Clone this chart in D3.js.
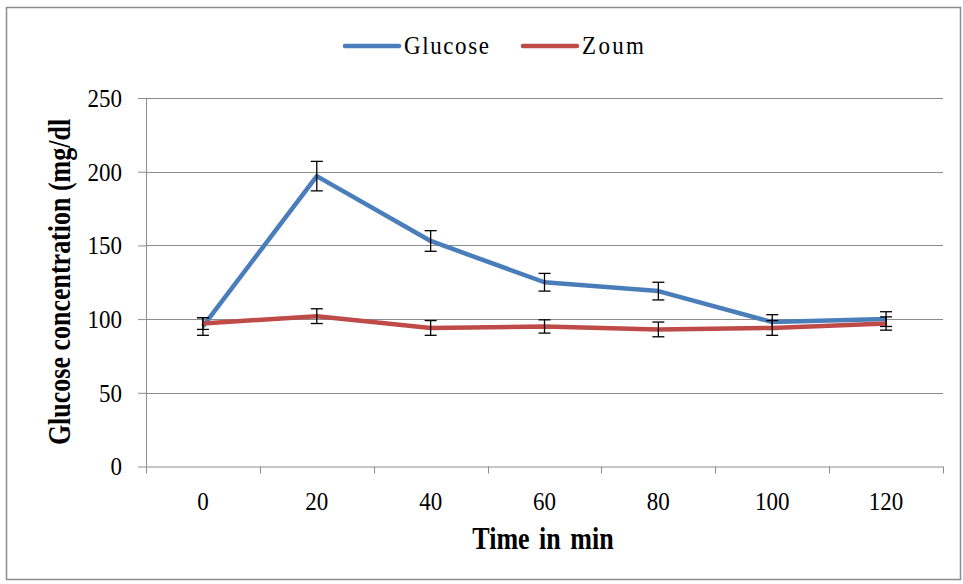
<!DOCTYPE html>
<html>
<head>
<meta charset="utf-8">
<script src="https://cdn.jsdelivr.net/npm/d3@7"></script>
<style>
  body { margin: 0; background: #fff; }
  svg { display: block; font-family: "Liberation Serif", "Times New Roman", serif; }
  text { transform-box: fill-box; transform-origin: center; }
  .grid line { stroke: #8c8c8c; stroke-width: 1; }
  .axis path, .axis line { stroke: #8c8c8c; stroke-width: 1; }
  .axis text { font-size: 23px; fill: #000; transform: scaleY(1.13); }
  .Title { transform: scaleY(1.18); }
</style>
</head>
<body>
<div id="ChartContainer"></div>
<script>
var times = ["0", "20", "40", "60", "80", "100", "120"]
var glucose = [95, 197, 153, 125, 119, 98, 100]
var glucoseErr = [6, 10, 7, 6, 6, 5, 5]
var zoum = [97, 102, 94, 95, 93, 94, 97]
var zoumErr = [4, 5, 5, 4.5, 5, 5, 4.5]
var yTicks = [0, 50, 100, 150, 200, 250]

var fullWidth = 963
var fullHeight = 584
var margin = { top: 98, right: 20, bottom: 117.5, left: 146 }
var width = 943 - margin.left
var height = 466.5 - margin.top

var svg = d3.select("#ChartContainer").append("svg")
  .attr("width", fullWidth)
  .attr("height", fullHeight)

// outer chart border
svg.append("rect")
  .attr("x", 6.5)
  .attr("y", 7.5)
  .attr("width", 954)
  .attr("height", 572)
  .attr("fill", "#fff")
  .attr("stroke", "#8c8c8c")
  .attr("stroke-width", 1.5)

var x = d3.scaleBand().domain(times).range([0, width]).padding(0)
var y = d3.scaleLinear().domain([0, 250]).range([height, 0])

var g = svg.append("g")
  .attr("transform", `translate(${margin.left},${margin.top})`)

// gridlines
g.append("g").attr("class", "grid")
  .selectAll("line")
  .data(yTicks.filter(d => d > 0))
  .enter().append("line")
  .attr("x1", 0)
  .attr("x2", width)
  .attr("y1", d => Math.round(y(d)) + 0.5)
  .attr("y2", d => Math.round(y(d)) + 0.5)

// y-axis
g.append("g")
  .attr("class", "axis axis-y")
  .call(d3.axisLeft(y).tickValues(yTicks).tickSize(8).tickPadding(16))
  .attr("font-family", null)
  .attr("font-size", null)
  .call(a => a.select(".domain").attr("d", `M0.5,${height}V0`))

// x-axis
var xAxis = g.append("g")
  .attr("class", "axis axis-x")
  .attr("transform", `translate(0,${height})`)
  .call(d3.axisBottom(x).tickSize(0).tickPadding(26))
  .attr("font-family", null)
  .attr("font-size", null)
xAxis.select(".domain").attr("d", `M0,0.5H${width}`)
xAxis.selectAll(".bound")
  .data(d3.range(times.length + 1))
  .enter().append("line")
  .attr("x1", i => Math.round(i * x.step()) + 0.5)
  .attr("x2", i => Math.round(i * x.step()) + 0.5)
  .attr("y1", 0)
  .attr("y2", 7)

var cx = d => x(d) + x.bandwidth() / 2

function drawSeries(values, errs, color) {
  var line = d3.line()
    .x((d, i) => cx(times[i]))
    .y(d => y(d))
  g.append("path")
    .datum(values)
    .attr("fill", "none")
    .attr("stroke", color)
    .attr("stroke-width", 4.5)
    .attr("stroke-linejoin", "round")
    .attr("d", line)

  var eb = g.append("g").attr("stroke", "#000").attr("stroke-width", 1.3)
  values.forEach((v, i) => {
    var px = cx(times[i])
    var top = y(v + errs[i]), bot = y(v - errs[i])
    eb.append("line").attr("x1", px).attr("x2", px).attr("y1", top).attr("y2", bot)
    eb.append("line").attr("x1", px - 6).attr("x2", px + 6).attr("y1", top).attr("y2", top)
    eb.append("line").attr("x1", px - 6).attr("x2", px + 6).attr("y1", bot).attr("y2", bot)
  })
}

drawSeries(glucose, glucoseErr, "#4a7ebb")
drawSeries(zoum, zoumErr, "#be4b48")

// x-axis label
svg.append("text")
  .attr("class", "Title")
  .attr("x", 543)
  .attr("y", 547)
  .attr("text-anchor", "middle")
  .attr("font-weight", "bold")
  .attr("font-size", "26px")
  .attr("word-spacing", "3px")
  .text("Time in min")

// y-axis label (rotation on a wrapper, stretch on the text itself)
svg.append("g")
  .attr("transform", "translate(69,282) rotate(-90)")
  .append("text")
  .attr("class", "Title")
  .attr("text-anchor", "middle")
  .attr("font-weight", "bold")
  .attr("font-size", "26px")
  .text("Glucose concentration (mg/dl")

// legend
var legend = [
  { name: "Glucose", color: "#4a7ebb", x: 345, w: 85 },
  { name: "Zoum", color: "#be4b48", x: 523, w: 62 }
]
var lg = svg.append("g")
legend.forEach(d => {
  lg.append("line")
    .attr("x1", d.x).attr("x2", d.x + 54)
    .attr("y1", 46).attr("y2", 46)
    .attr("stroke", d.color)
    .attr("stroke-width", 4.5)
    .attr("stroke-linecap", "round")
  lg.append("text")
    .attr("x", d.x + 59)
    .attr("y", 53)
    .attr("font-size", "23px")
    .attr("textLength", d.w)
    .attr("lengthAdjust", "spacing")
    .style("transform", "scaleY(1.1)")
    .text(d.name)
})
</script>
</body>
</html>
